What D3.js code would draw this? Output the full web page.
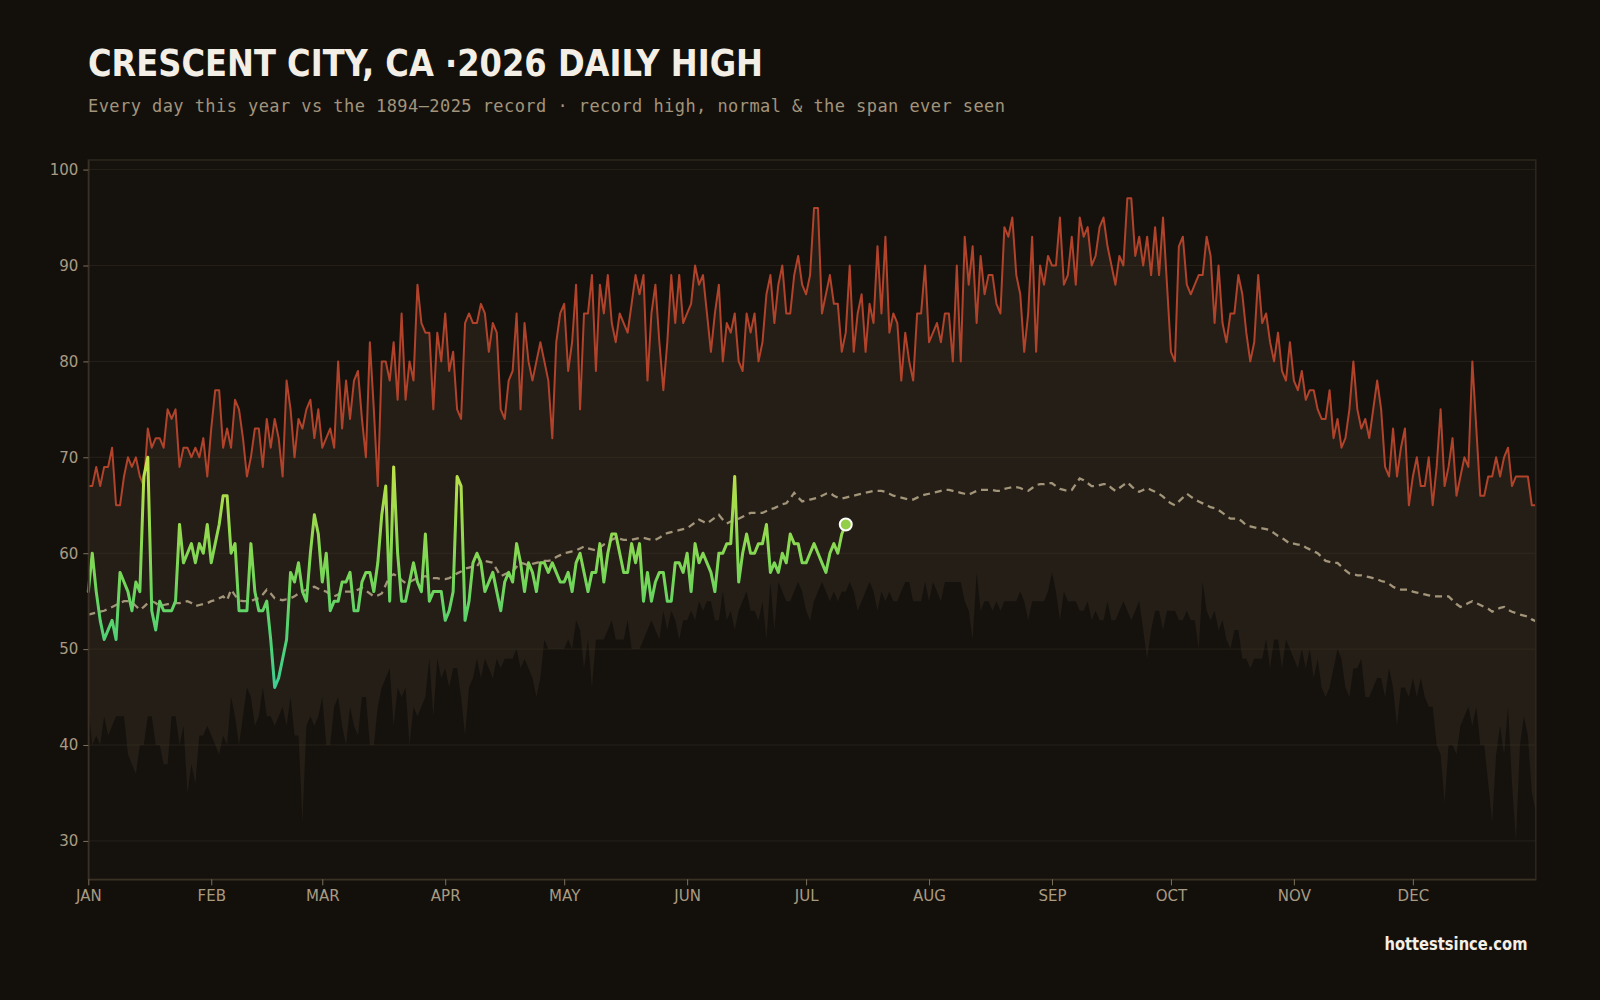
<!DOCTYPE html>
<html><head><meta charset="utf-8">
<script src="https://cdn.jsdelivr.net/npm/d3@7"></script>
<style>
html,body{margin:0;padding:0;background:#13100c;}
svg{display:block;}
</style></head><body>
<svg id="chart" width="1600" height="1000"></svg>
<script>
// ---- data (day-of-year index 0..365) ----
const recordHigh = [
67,67,69,67,69,69,71,65,65,68, 70,69,70,68,67,73,71,72,72,71,
75,74,75,69,71,71,70,71,70,72, 68,73,77,77,71,73,71,76,75,72,
68,70,73,73,69,74,71,74,72,68, 78,75,70,74,73,75,76,72,75,71,
72,73,71,80,73,78,74,78,79,74, 70,82,75,67,80,80,78,82,76,85,
76,80,78,88,84,83,83,75,83,80, 85,79,81,75,74,84,85,84,84,86,
85,81,84,83,75,74,78,79,85,75, 84,80,78,80,82,80,78,72,82,85,
86,79,82,88,75,85,85,89,79,88, 85,89,84,82,85,84,83,86,89,87,
89,78,85,88,82,77,82,89,84,89, 84,85,86,90,88,89,85,81,85,88,
80,84,83,85,80,79,85,83,85,80, 82,87,89,84,88,90,85,85,89,91,
88,87,89,96,96,85,87,89,86,86, 81,83,90,81,85,87,81,86,84,92,
85,93,83,85,84,78,83,80,78,85, 85,90,82,83,84,82,85,85,80,90,
80,93,88,92,84,91,87,89,89,86, 85,94,93,95,89,87,81,85,93,81,
90,88,91,90,90,95,88,89,93,88, 95,93,94,90,91,94,95,92,90,88,
91,90,97,97,91,93,90,93,89,94, 89,95,88,81,80,92,93,88,87,88,
89,89,93,91,84,90,84,82,85,85, 89,87,83,80,82,89,84,85,82,80,
83,79,78,82,78,77,79,76,77,77, 75,74,74,77,72,74,71,72,75,80,
75,73,74,72,75,78,75,69,68,73, 68,71,73,65,68,70,67,67,70,65,
69,75,67,69,72,66,68,70,69,80, 73,66,66,68,68,70,68,70,71,67,
68,68,68,68,65,65
];
const recordLow = [
44,40,41,40,43,41,42,43,43,43, 39,38,37,40,40,43,43,40,40,38,
38,43,43,40,42,35,38,36,41,41, 42,41,40,39,41,40,45,43,40,43,
46,45,42,43,46,43,43,42,43,44, 42,45,41,41,32,42,43,42,43,45,
40,40,44,45,42,40,44,42,41,45, 45,40,40,44,46,47,48,42,46,45,
46,40,44,43,44,45,49,43,49,47, 48,46,48,48,45,41,46,47,49,47,
49,48,47,49,48,49,49,49,50,48, 49,48,47,45,47,51,50,50,50,50,
50,51,50,53,52,48,51,46,51,51, 51,52,53,51,51,51,53,50,50,50,
51,52,53,52,51,54,52,54,53,51, 53,53,54,53,55,54,55,55,53,53,
56,53,54,52,54,55,56,54,54,53, 55,51,57,52,57,56,55,55,56,57,
56,54,53,55,56,57,56,55,56,55, 56,56,57,56,54,55,56,57,56,54,
56,55,56,55,55,56,57,57,55,55, 55,57,55,57,56,55,57,57,57,57,
57,55,54,51,58,54,55,55,54,55, 54,55,55,55,55,56,55,53,55,55,
55,55,56,58,56,53,56,55,55,55, 54,54,55,53,54,53,53,55,53,53,
54,55,54,53,54,55,52,49,52,54, 54,52,54,54,54,53,53,54,53,53,
50,57,54,53,54,52,53,51,50,52, 52,49,49,48,49,49,49,51,48,51,
51,48,51,50,49,48,50,48,50,47, 49,46,45,46,48,50,49,46,45,48,
48,49,45,45,46,47,47,45,48,46, 42,46,46,45,47,45,47,45,44,44,
40,39,34,40,40,39,42,43,44,42, 44,40,40,36,32,39,42,39,44,36,
30,40,43,41,35,33
];
const normal = [
53.6,53.7,53.8,53.9,54.0,54.2,54.4,54.6,54.8,55.0,
55.0,54.9,54.5,54.1,54.4,54.8,55.0,54.8,54.5,54.6,
54.7,54.7,54.8,54.8,54.9,55.0,54.8,54.5,54.6,54.7,
54.8,55.0,55.1,55.3,55.5,55.1,56.2,55.6,55.1,55.0,
55.0,55.0,55.2,55.3,55.7,56.2,55.8,55.3,55.2,55.1,
55.2,55.3,55.5,55.8,56.0,56.2,56.4,56.5,56.3,56.1,
56.0,55.7,55.5,55.7,56.0,56.0,56.0,56.0,56.2,56.4,
56.1,55.8,55.5,55.6,55.8,56.7,57.6,57.8,57.6,57.2,
56.9,57.0,57.2,57.4,57.5,57.6,57.5,57.4,57.4,57.3,
57.3,57.4,57.6,57.9,58.1,58.4,58.5,58.6,58.6,59.3,
59.2,59.1,59.0,58.3,57.6,57.8,58.0,58.1,58.6,59.0,
58.9,58.7,58.9,59.0,59.1,59.2,59.2,59.3,59.6,59.8,
60.0,60.1,60.2,60.3,60.5,60.7,60.5,60.4,60.3,60.6,
60.9,61.1,61.4,61.6,61.5,61.4,61.4,61.4,61.5,61.6,
61.6,61.5,61.4,61.4,61.6,61.9,62.1,62.2,62.3,62.4,
62.5,62.6,62.9,63.2,63.5,63.3,63.1,63.4,63.7,64.0,
63.5,63.1,63.3,63.5,63.6,63.8,64.0,64.2,64.2,64.2,
64.2,64.4,64.6,64.7,64.9,65.1,65.2,65.7,66.3,65.8,
65.4,65.5,65.6,65.7,65.8,66.0,66.2,66.3,66.0,65.8,
65.7,65.8,65.9,66.0,66.1,66.2,66.3,66.4,66.5,66.5,
66.5,66.4,66.2,66.0,65.9,65.8,65.7,65.6,65.6,65.8,
66.0,66.1,66.2,66.3,66.4,66.5,66.6,66.6,66.5,66.4,
66.3,66.2,66.1,66.3,66.5,66.6,66.6,66.6,66.6,66.5,
66.5,66.7,66.8,66.9,66.9,66.8,66.6,66.5,66.8,67.1,
67.2,67.2,67.3,67.3,67.0,66.7,66.6,66.5,66.6,67.2,
67.8,67.6,67.3,67.0,67.0,67.1,67.2,67.2,66.8,66.5,
66.8,67.1,67.4,67.0,66.6,66.4,66.6,66.8,66.6,66.4,
66.2,65.9,65.5,65.2,65.0,65.4,65.8,66.2,65.9,65.6,
65.4,65.2,65.0,64.8,64.7,64.5,64.2,63.9,63.6,63.6,
63.6,63.3,62.9,62.8,62.7,62.6,62.6,62.5,62.4,62.1,
61.8,61.6,61.3,61.0,61.0,60.9,60.9,60.6,60.4,60.2,
60.0,59.6,59.2,59.1,59.0,59.0,58.6,58.2,57.9,57.8,
57.7,57.7,57.6,57.5,57.4,57.3,57.1,57.0,56.8,56.5,
56.3,56.2,56.2,56.2,56.0,55.9,55.8,55.7,55.6,55.5,
55.5,55.5,55.5,55.5,55.1,54.7,54.4,54.6,54.8,55.0,
54.8,54.6,54.4,54.2,53.9,54.1,54.3,54.4,54.1,53.9,
53.75,53.6,53.5,53.4,53.1,52.9
];
const current2026 = [
56,60,56,53,51,52,53,51,58,57, 56,54,57,56,68,70,54,52,55,54,
54,54,55,63,59,60,61,59,61,60, 63,59,61,63,66,66,60,61,54,54,
54,61,56,54,54,55,51,46,47,49, 51,58,57,59,56,55,60,64,62,57,
60,54,55,55,57,57,58,54,54,57, 58,58,56,59,64,67,55,69,60,55,
55,57,59,57,56,62,55,56,56,56, 53,54,56,68,67,53,55,59,60,59,
56,57,58,56,54,57,58,57,61,59, 56,59,58,56,59,59,58,59,58,57,
57,58,56,59,60,58,56,58,58,61, 57,60,62,62,60,58,58,61,59,61,
55,58,55,57,58,58,55,55,59,59, 58,60,56,61,59,60,59,58,56,60,
60,61,61,68,57,60,62,60,60,61, 61,63,58,59,58,60,59,62,61,61,
59,59,60,61,60,59,58,60,61,60, 62,63
];
const monthStarts = [0,31,59,90,120,151,181,212,243,273,304,334];
const monthLabels = ["JAN","FEB","MAR","APR","MAY","JUN","JUL","AUG","SEP","OCT","NOV","DEC"];
const yTicks = [30,40,50,60,70,80,90,100];
const titleText = "CRESCENT CITY, CA \u00B72026 DAILY HIGH";
const subtitleText = "Every day this year vs the 1894\u20132025 record \u00B7 record high, normal & the span ever seen";
const creditText = "hottestsince.com";

// ---- layout ----
const m = {left: 88.3, right: 1535.8, top: 160, bottom: 879.3};
const svg = d3.select("#chart");
const x = d3.scaleLinear().domain([0, 365]).range([m.left, m.right]);
const y = d3.scaleLinear().domain([26, 101]).range([m.bottom, m.top]);
const days = d3.range(recordHigh.length);

svg.append("rect").attr("width", 1600).attr("height", 1000).attr("fill", "#13100c");
svg.append("rect").attr("x", m.left).attr("y", m.top)
  .attr("width", m.right - m.left).attr("height", m.bottom - m.top).attr("fill", "#15120e");

// span ever seen
svg.append("path").datum(days)
  .attr("fill", "#241e16")
  .attr("d", d3.area().x(i => x(i)).y0(i => y(recordLow[i])).y1(i => y(recordHigh[i])));

// grid
svg.append("g").selectAll("line").data(yTicks).join("line")
  .attr("x1", m.left).attr("x2", m.right)
  .attr("y1", d => y(d)).attr("y2", d => y(d))
  .attr("stroke", "rgba(90,78,60,0.24)").attr("stroke-width", 1);

// record high
svg.append("path").datum(days)
  .attr("fill", "none").attr("stroke", "#b1432b").attr("stroke-width", 2)
  .attr("stroke-linejoin", "round")
  .attr("d", d3.line().x(i => x(i)).y(i => y(recordHigh[i])));

// normal
svg.append("path").datum(days)
  .attr("fill", "none").attr("stroke", "#a39579").attr("stroke-width", 2.3)
  .attr("stroke-dasharray", "7,5")
  .attr("d", d3.line().x(i => x(i)).y(i => y(normal[i])));

// gradient for current year
const defs = svg.append("defs");
const grad = defs.append("linearGradient").attr("id", "curGrad")
  .attr("gradientUnits", "userSpaceOnUse")
  .attr("x1", 0).attr("x2", 0).attr("y1", y(46)).attr("y2", y(70));
[[0, "#3dcf92"], [0.25, "#55d271"], [0.45, "#72d65a"], [0.62, "#8ad852"], [0.8, "#a6dc4c"], [1, "#c4e34a"]]
  .forEach(([o, c]) => grad.append("stop").attr("offset", o).attr("stop-color", c));

const curDays = d3.range(current2026.length);
svg.append("path").datum(curDays)
  .attr("fill", "none").attr("stroke", "url(#curGrad)").attr("stroke-width", 3)
  .attr("stroke-linejoin", "round").attr("stroke-linecap", "round")
  .attr("d", d3.line().x(i => x(i)).y(i => y(current2026[i])));

const last = current2026.length - 1;
svg.append("circle").attr("cx", x(last)).attr("cy", y(current2026[last])).attr("r", 6)
  .attr("fill", "#93cf46").attr("stroke", "#ffffff").attr("stroke-width", 2);

// frame
svg.append("rect").attr("x", m.left).attr("y", m.top)
  .attr("width", m.right - m.left).attr("height", m.bottom - m.top)
  .attr("fill", "none").attr("stroke", "#2e271e").attr("stroke-width", 1.5);

// axes
const axisColor = "#a99b81";
const yAxis = svg.append("g").attr("transform", `translate(${m.left},0)`)
  .call(d3.axisLeft(y).tickValues(yTicks).tickSize(5).tickSizeOuter(0).tickPadding(5));
const xAxis = svg.append("g").attr("transform", `translate(0,${m.bottom})`)
  .call(d3.axisBottom(x).tickValues(monthStarts).tickFormat((d, i) => monthLabels[i])
    .tickSize(6).tickSizeOuter(0).tickPadding(5));
[yAxis, xAxis].forEach(g => {
  g.select(".domain").attr("stroke", "#3a3125").attr("stroke-width", 1.5);
  g.selectAll(".tick line").attr("stroke", "#7d705b");
  g.selectAll(".tick text").attr("fill", axisColor)
    .style("font-family", "'DejaVu Sans', sans-serif").style("font-size", "15px");
});

// titles
svg.append("text").attr("x", 88).attr("y", 76)
  .attr("fill", "#f3efe6")
  .style("font-family", "'DejaVu Sans', sans-serif").style("font-weight", "bold")
  .style("font-stretch", "condensed").style("font-size", "37px")
  .attr("textLength", 675).attr("lengthAdjust", "spacingAndGlyphs")
  .text(titleText);
svg.append("text").attr("x", 88).attr("y", 112)
  .attr("fill", "#a2947b")
  .style("font-family", "'DejaVu Sans Mono', monospace").style("font-size", "17px")
  .attr("textLength", 917).attr("lengthAdjust", "spacing")
  .text(subtitleText);
svg.append("text").attr("x", 1527.5).attr("y", 950).attr("text-anchor", "end")
  .attr("fill", "#f3efe6")
  .style("font-family", "'DejaVu Sans', sans-serif").style("font-weight", "bold")
  .style("font-size", "17px")
  .attr("textLength", 143).attr("lengthAdjust", "spacingAndGlyphs")
  .text(creditText);
</script>
</body></html>
